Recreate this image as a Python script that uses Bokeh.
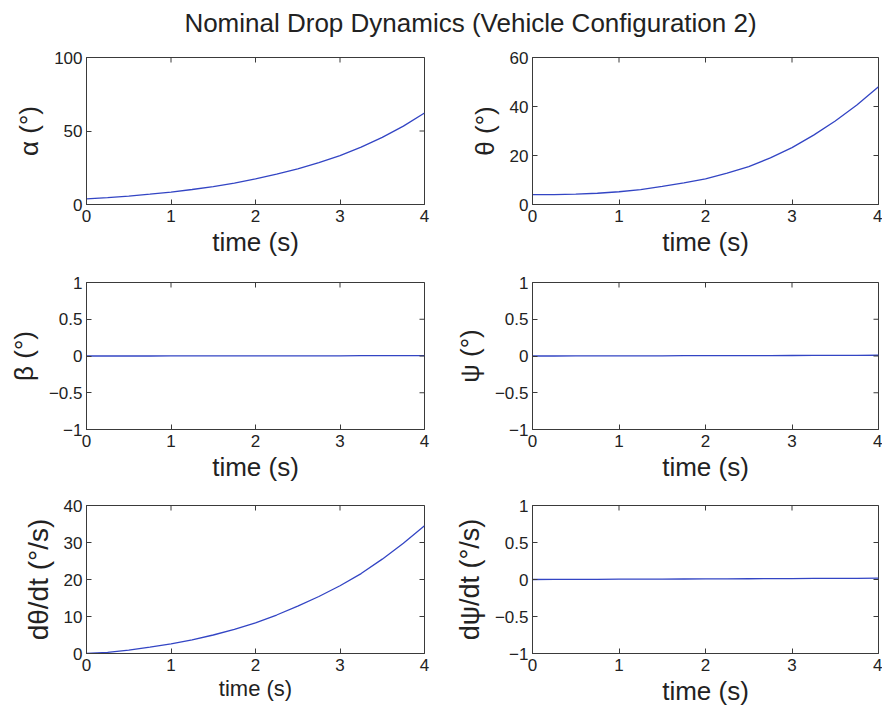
import math
from bokeh.plotting import figure
from bokeh.models import Range1d, FixedTicker, CustomJSTickFormatter, Label
from bokeh.layouts import gridplot, column
from bokeh.embed import file_html
from bokeh.resources import INLINE

# ---------------- data ----------------
time_s = [0.0, 0.25, 0.5, 0.75, 1.0, 1.25, 1.5, 1.75, 2.0, 2.25, 2.5, 2.75, 3.0, 3.25, 3.5, 3.75, 4.0]
alpha_deg = [3.8, 4.7, 5.7, 7.0, 8.4, 10.2, 12.2, 14.6, 17.4, 20.6, 24.2, 28.5, 33.3, 39.0, 45.7, 53.3, 62.2]
theta_deg = [4.0, 4.0, 4.2, 4.6, 5.2, 6.1, 7.4, 8.8, 10.5, 12.8, 15.5, 19.0, 23.2, 28.3, 34.1, 40.6, 48.1]
beta_deg = [0.0, 0.0, 0.0, 0.0, 0.001, 0.001, 0.001, 0.002, 0.002, 0.002, 0.003, 0.003, 0.003, 0.004, 0.004, 0.005, 0.005]
psi_deg = [0.0, 0.0, 0.001, 0.001, 0.002, 0.002, 0.003, 0.004, 0.004, 0.005, 0.006, 0.006, 0.007, 0.008, 0.008, 0.009, 0.01]
theta_rate = [0.0, 0.3, 0.9, 1.7, 2.6, 3.7, 5.0, 6.5, 8.3, 10.4, 12.8, 15.4, 18.3, 21.6, 25.5, 29.8, 34.5]
psi_rate = [0.0, 0.001, 0.002, 0.003, 0.004, 0.005, 0.006, 0.007, 0.008, 0.009, 0.010, 0.011, 0.012, 0.014, 0.015, 0.016, 0.018]

title_text = "Nominal Drop Dynamics (Vehicle Configuration 2)"
x_label = "time (s)"
x_ticks = [0, 1, 2, 3, 4]
alpha_ticks = [0, 50, 100]
theta_ticks = [0, 20, 40, 60]
unit_ticks = [-1, -0.5, 0, 0.5, 1]
rate_ticks = [0, 10, 20, 30, 40]

FONT = "Liberation Sans"
LINE = "#3345c4"
AX = "#3a3a3a"
TXT = "#222222"

fmt = CustomJSTickFormatter(code="return tick < 0 ? '\u2212' + String(Math.abs(tick)) : String(tick);")


def panel(y, ylabel, yr, yticks, w, h, bl, br, bt, bb, xls="26px", yls="26px"):
    x0, x1 = 0, 4
    p = figure(width=w, height=h, x_range=Range1d(x0, x1), y_range=Range1d(*yr),
               output_backend="svg", toolbar_location=None,
               min_border_left=bl, min_border_right=br, min_border_top=bt, min_border_bottom=bb)
    p.line(time_s, y, line_color=LINE, line_width=1.3)
    p.xgrid.visible = False
    p.ygrid.visible = False
    p.outline_line_color = AX
    p.outline_line_width = 1
    p.background_fill_color = "white"
    p.border_fill_color = "white"
    p.xaxis.ticker = FixedTicker(ticks=x_ticks)
    p.yaxis.ticker = FixedTicker(ticks=yticks)
    p.xaxis.formatter = fmt
    p.yaxis.formatter = fmt
    for ax in (p.xaxis[0], p.yaxis[0]):
        ax.major_tick_in = 5
        ax.major_tick_out = 0
        ax.minor_tick_in = 0
        ax.minor_tick_out = 0
        ax.axis_line_color = AX
        ax.major_tick_line_color = AX
        ax.major_label_text_font = FONT
        ax.major_label_text_font_size = "17px"
        ax.major_label_text_color = TXT
        ax.axis_label_text_font = FONT
        ax.axis_label_text_font_style = "normal"
        ax.axis_label_text_color = TXT
    p.xaxis.axis_label = x_label
    p.xaxis.axis_label_text_font_size = xls
    p.xaxis.major_label_standoff = 5
    p.xaxis.axis_label_standoff = 2
    p.yaxis.axis_label = ylabel
    p.yaxis.axis_label_text_font_size = yls
    p.yaxis.major_label_standoff = 4
    p.yaxis.axis_label_standoff = 7
    # mirrored inward ticks on the top and right edges (MATLAB box style);
    # dash markers centred on the frame edge, the outer half is clipped away
    p.scatter(x=x_ticks, y=[yr[1]] * len(x_ticks), marker="dash", size=10,
              angle=math.pi / 2, line_color=AX, line_width=1)
    p.scatter(x=[x1] * len(yticks), y=yticks, marker="dash", size=10,
              line_color=AX, line_width=1)
    return p


# column / row geometry
LW, RW = 440, 442
LB = (86, 16)
RB = (92, 4)
R1 = (230, 17, 66)
R2 = (224, 12, 65)
R3 = (217, 11, 58)

p1 = panel(alpha_deg, "\u03b1 (\u00b0)", (0, 100), alpha_ticks, LW, R1[0], LB[0], LB[1], R1[1], R1[2])
p2 = panel(theta_deg, "\u03b8 (\u00b0)", (0, 60), theta_ticks, RW, R1[0], RB[0], RB[1], R1[1], R1[2])
p3 = panel(beta_deg, "\u03b2 (\u00b0)", (-1, 1), unit_ticks, LW, R2[0], LB[0], LB[1], R2[1], R2[2])
p4 = panel(psi_deg, "\u03c8 (\u00b0)", (-1, 1), unit_ticks, RW, R2[0], RB[0], RB[1], R2[1], R2[2])
p5 = panel(theta_rate, "d\u03b8/dt (\u00b0/s)", (0, 40), rate_ticks, LW, R3[0], LB[0], LB[1], R3[1], R3[2],
           xls="22px", yls="28px")
p6 = panel(psi_rate, "d\u03c8/dt (\u00b0/s)", (-1, 1), unit_ticks, RW, R3[0], RB[0], RB[1], R3[1], R3[2],
           yls="27px")

# title strip
t = figure(width=882, height=40, x_range=Range1d(0, 882), y_range=Range1d(0, 40),
           output_backend="svg", toolbar_location=None,
           min_border_left=0, min_border_right=0, min_border_top=0, min_border_bottom=0)
t.axis.visible = False
t.xgrid.visible = False
t.ygrid.visible = False
t.outline_line_color = None
t.add_layout(Label(x=470, y=18, text=title_text, text_align="center", text_baseline="middle",
                   text_font=FONT, text_font_size="26px", text_color=TXT))

grid = gridplot([[p1, p2], [p3, p4], [p5, p6]], toolbar_location=None)
layout = column(t, grid)

open("out.html", "w", encoding="utf-8").write(file_html(layout, INLINE))
